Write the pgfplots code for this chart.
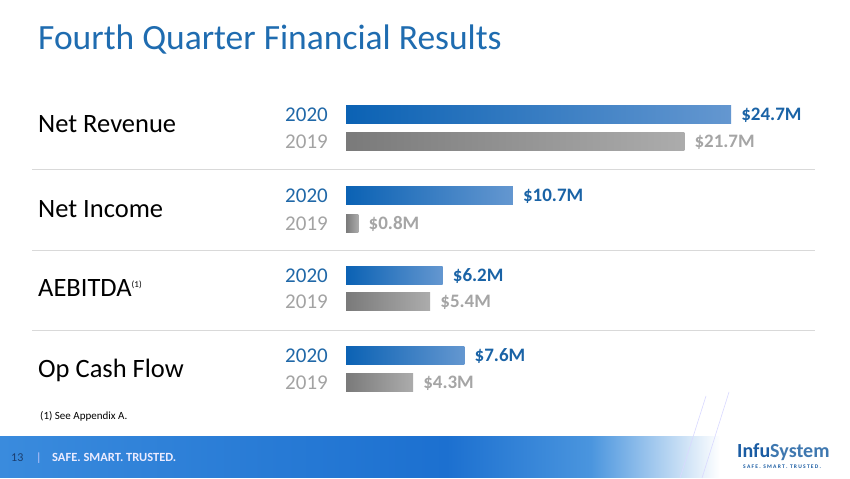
\documentclass[border=0pt]{standalone}
\usepackage{pgfplots}
\pgfplotsset{compat=1.18}
\usepackage{fontspec}
\setmainfont{Carlito}
\definecolor{titleblue}{HTML}{1F6CB0}
\definecolor{blueA}{HTML}{0B62B4}
\definecolor{blueB}{HTML}{6497D0}
\definecolor{grayA}{HTML}{7A7A7A}
\definecolor{grayB}{HTML}{ACACAC}
\definecolor{valblue}{HTML}{1A63A6}
\definecolor{valgray}{HTML}{A5A5A5}
\definecolor{yrblue}{HTML}{2068A8}
\definecolor{yrgray}{HTML}{A3A3A3}
\definecolor{sepgray}{HTML}{D9D9D9}
\definecolor{fA}{HTML}{3A8BDD}
\definecolor{fB}{HTML}{1C70D0}
\definecolor{fC}{HTML}{4A95DE}
\definecolor{navy}{HTML}{1B3D6E}
\definecolor{logoblue}{HTML}{1A5CA3}
\definecolor{logogray}{HTML}{3F78B0}
\pgfdeclarehorizontalshading{footer}{100bp}{color(0bp)=(fA); color(25bp)=(fA); color(56bp)=(fB); color(66bp)=(fC); color(75bp)=(white); color(100bp)=(white)}
\begin{document}
\begin{tikzpicture}[x=1pt,y=1pt]
\fill[white] (0,0) rectangle (850,478);
% footer band
\shade[shading=footer] (0,0) rectangle (720,41);
\draw[white!85!blue, line width=0.6pt] (680,0) -- (706,82);
\draw[white!85!blue, line width=0.6pt] (702,0) -- (729,86);
% title
\node[anchor=base west, inner sep=0, text=titleblue, font=\fontsize{35.5}{40}\selectfont] at (38,428) {Fourth Quarter Financial Results};
% separators
\foreach \yy in {309,228,148} {\draw[sepgray, line width=0.8pt] (32,\yy) -- (815,\yy);}
% category labels
\begin{scope}[every node/.style={anchor=base west, inner sep=0, font=\fontsize{26.5}{30}\selectfont}]
\node at (38,345) {Net Revenue};
\node at (38,260) {Net Income};
\node at (38,181) {AEBITDA\textsuperscript{\fontsize{9}{10}\selectfont(1)}};
\node at (38,100) {Op Cash Flow};
\end{scope}
% year labels
\begin{scope}[every node/.style={anchor=base east, inner sep=0, font=\fontsize{21}{24}\selectfont}]
\foreach \yc in {363,282,202,122} {\node[text=yrblue] at (328,\yc-7) {2020};}
\foreach \yc in {336,254,176,95} {\node[text=yrgray] at (328,\yc-7) {2019};}
\end{scope}
% footnote
\node[anchor=base west, inner sep=0, font=\fontsize{11}{13}\selectfont] at (40,58) {(1) See Appendix A.};
% footer text
\node[anchor=base west, inner sep=0, text=navy, font=\fontsize{12}{14}\selectfont] at (11,16) {13};
\node[anchor=base west, inner sep=0, text=white!80!blue, font=\fontsize{12}{14}\selectfont] at (36,16) {|};
\node[anchor=base west, inner sep=0, text=white!92!blue, font=\bfseries\fontsize{12.5}{14}\selectfont] at (52,16) {SAFE. SMART. TRUSTED.};
% logo
\node[anchor=base west, inner sep=0, font=\bfseries\fontsize{20}{22}\selectfont] at (737,20) {\textcolor{logoblue}{Infu}\textcolor{logogray}{System}};
\node[anchor=base west, inner sep=0, text=logoblue, font=\bfseries\fontsize{5.5}{6}\selectfont] at (743,9) {S A F E .\ \ S M A R T .\ \ T R U S T E D .};
\begin{axis}[
  at={(0,0)}, anchor=south west, scale only axis,
  width=850pt, height=478pt,
  xmin=-22.1937, xmax=32.3284, ymin=0, ymax=478,
  axis lines=none, ticks=none, clip=false,
  xbar, bar width=18pt, bar shift=0pt,
  point meta=x,
  nodes near coords={\$\pgfmathprintnumber[fixed,precision=1,fixed zerofill,assume math mode=true]{\pgfplotspointmeta}M},
  every node near coord/.append style={anchor=west, inner sep=0, xshift=10pt, font=\bfseries\fontsize{19}{22}\selectfont},
]
\addplot[draw=none, left color=blueA, right color=blueB, every node near coord/.append style={text=valblue}] coordinates {(24.7,363)};
\addplot[draw=none, left color=blueA, right color=blueB, every node near coord/.append style={text=valblue}] coordinates {(10.7,282)};
\addplot[draw=none, left color=blueA, right color=blueB, every node near coord/.append style={text=valblue}] coordinates {(6.2,202)};
\addplot[draw=none, left color=blueA, right color=blueB, every node near coord/.append style={text=valblue}] coordinates {(7.6,122)};
\addplot[draw=none, left color=grayA, right color=grayB, every node near coord/.append style={text=valgray}] coordinates {(21.7,336)};
\addplot[draw=none, left color=grayA, right color=grayB, every node near coord/.append style={text=valgray}] coordinates {(0.8,254)};
\addplot[draw=none, left color=grayA, right color=grayB, every node near coord/.append style={text=valgray}] coordinates {(5.4,176)};
\addplot[draw=none, left color=grayA, right color=grayB, every node near coord/.append style={text=valgray}] coordinates {(4.3,95)};
\end{axis}
\end{tikzpicture}
\end{document}
